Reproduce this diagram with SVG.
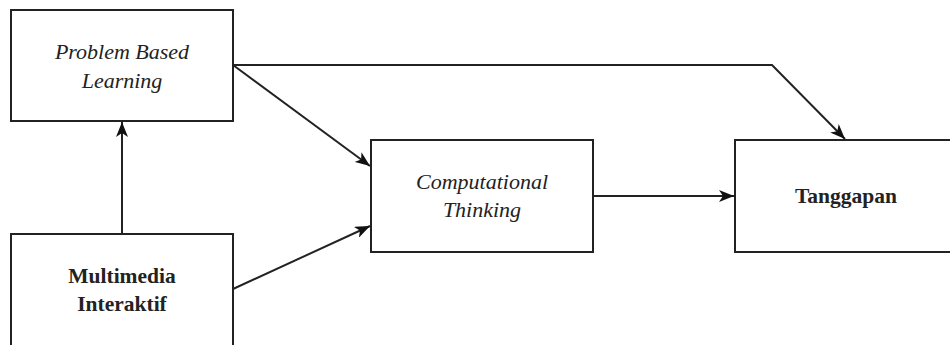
<svg xmlns="http://www.w3.org/2000/svg" width="950" height="345" viewBox="0 0 950 345">
<style>
.box{fill:#fff;stroke:#222;stroke-width:2}
.edge{fill:none;stroke:#222;stroke-width:2}
.t{font-family:"Liberation Serif","Times New Roman",serif;font-size:22px;fill:#222;text-anchor:middle}
.i{font-style:italic}
.b{font-weight:bold;font-size:21.5px}
</style>
<defs>
<marker id="arr" markerUnits="userSpaceOnUse" markerWidth="16" markerHeight="12" viewBox="0 0 16 12" refX="15" refY="6" orient="auto">
<path d="M0,0 L15,6 L0,12 L4,6 z" fill="#111"/>
</marker>
</defs>
<rect width="950" height="345" fill="#fff"/>
<g id="pbl">
<rect class="box" x="11" y="10" width="222" height="111"/>
<text class="t i" x="122" y="59">Problem Based</text>
<text class="t i" x="122" y="88">Learning</text>
</g>
<g id="mi">
<rect class="box" x="11" y="234" width="222" height="130"/>
<text class="t b" x="122" y="283">Multimedia</text>
<text class="t b" x="122" y="311">Interaktif</text>
</g>
<g id="ct">
<rect class="box" x="371" y="140" width="222" height="112"/>
<text class="t i" x="482" y="189">Computational</text>
<text class="t i" x="482" y="217">Thinking</text>
</g>
<g id="tg">
<rect class="box" x="735" y="140" width="230" height="112"/>
<text class="t b" x="846" y="203">Tanggapan</text>
</g>
<g id="connectors">
<line class="edge" x1="122" y1="234" x2="122" y2="122" marker-end="url(#arr)"/>
<line class="edge" x1="233" y1="65" x2="370" y2="166" marker-end="url(#arr)"/>
<polyline class="edge" points="233,65 772,65 845,139" marker-end="url(#arr)"/>
<line class="edge" x1="233" y1="289" x2="370" y2="226" marker-end="url(#arr)"/>
<line class="edge" x1="593" y1="196" x2="734" y2="196" marker-end="url(#arr)"/>
</g>
</svg>
